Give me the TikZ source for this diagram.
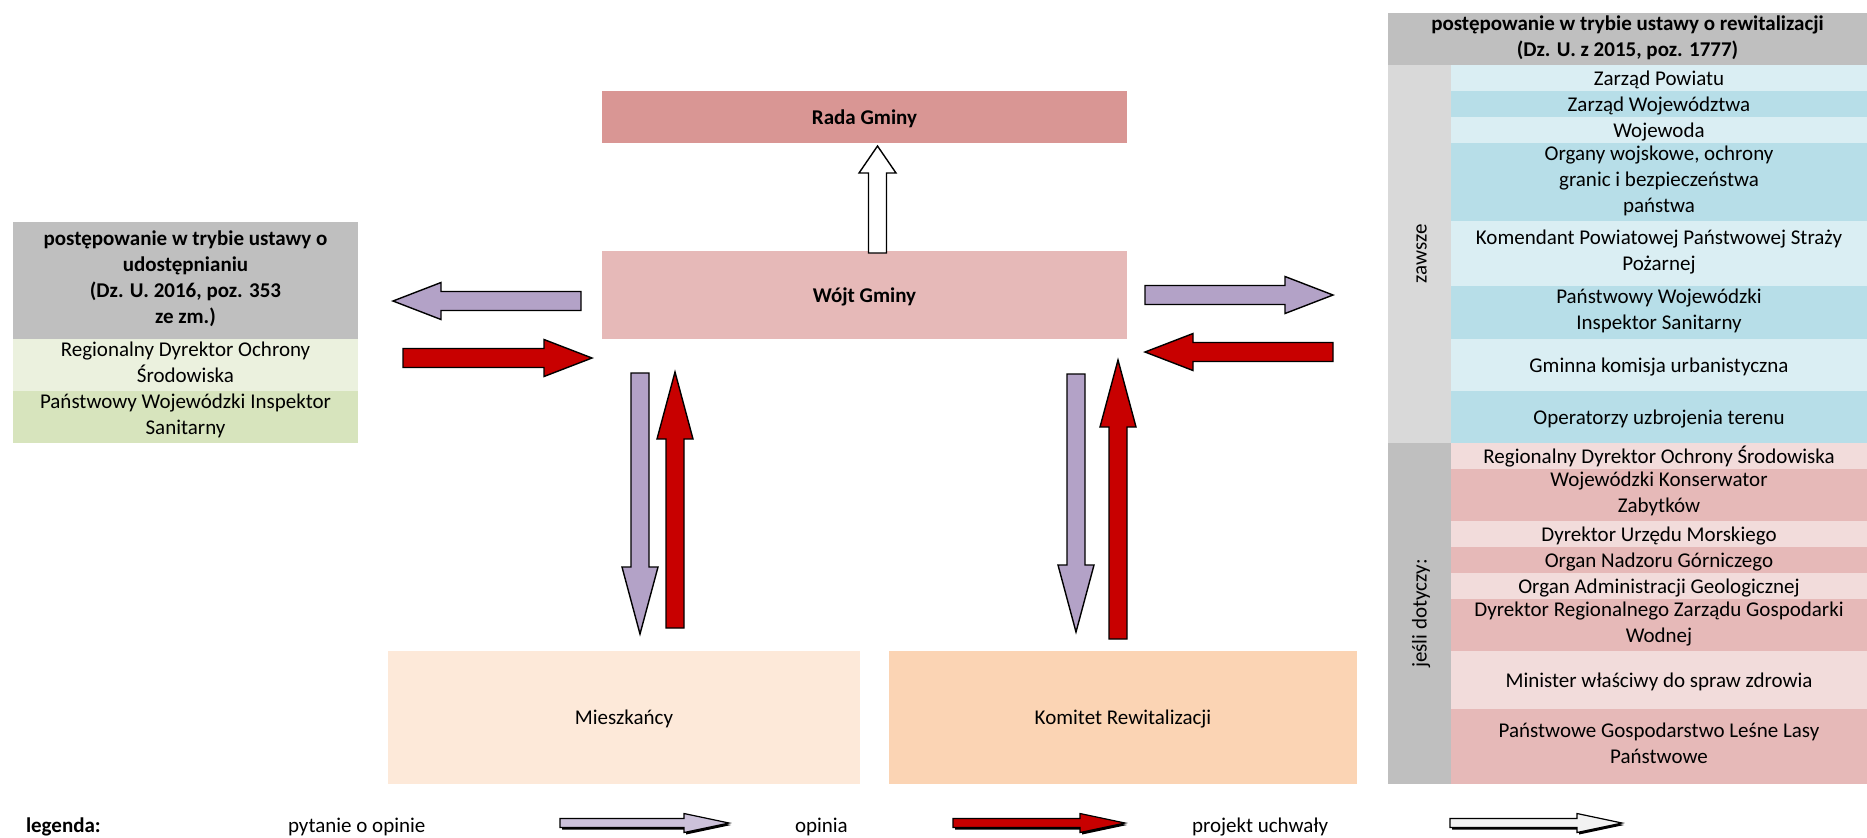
\documentclass[tikz,border=0pt]{standalone}
\usepackage{fontspec}
\setmainfont{Carlito}
\usepackage{tikz}
\usetikzlibrary{positioning,calc,shadows}

\definecolor{radaC}{HTML}{D99694}
\definecolor{wojtC}{HTML}{E6B9B8}
\definecolor{mieszC}{HTML}{FDE9D9}
\definecolor{komitetC}{HTML}{FBD4B4}
\definecolor{headC}{HTML}{BFBFBF}
\definecolor{zawszeC}{HTML}{D9D9D9}
\definecolor{blueA}{HTML}{DAEEF3}
\definecolor{blueB}{HTML}{B7DEE8}
\definecolor{pinkA}{HTML}{F2DCDB}
\definecolor{pinkB}{HTML}{E6B9B8}
\definecolor{greenA}{HTML}{EBF1DE}
\definecolor{greenB}{HTML}{D7E4BD}
\definecolor{askC}{HTML}{B3A2C7}
\definecolor{ansC}{HTML}{C80000}
\definecolor{askLegC}{HTML}{CCC1DA}
\definecolor{draftC}{HTML}{F2F2F2}

\newcommand{\boxfont}{\fontsize{10.5}{13}\selectfont}

\begin{document}
\begin{tikzpicture}[
    x=0.5pt, y=-0.5pt,
    node distance=0pt,
    box/.style={inner sep=0pt, outer sep=0pt, align=center, font=\boxfont,
      execute at begin node={\rule{0pt}{10pt}}, execute at end node={\rule[-3pt]{0pt}{3pt}}},
    head/.style={box, fill=headC, font=\boxfont\bfseries},
    row/.style={box, minimum width=208pt},
    blockarrow/.style args={#1/#2/#3}{draw=black, line width=0.7pt,
      to path={let \p1=(\tikztostart), \p2=(\tikztotarget),
        \n1={veclen(\x2-\x1,\y2-\y1)}, \n2={(\x2-\x1)/\n1}, \n3={(\y2-\y1)/\n1} in
        ({\x1-(\n3)*#1},{\y1+(\n2)*#1})
        -- ({\x2-(\n2)*#3-(\n3)*#1},{\y2-(\n3)*#3+(\n2)*#1})
        -- ({\x2-(\n2)*#3-(\n3)*#2},{\y2-(\n3)*#3+(\n2)*#2})
        -- (\p2)
        -- ({\x2-(\n2)*#3+(\n3)*#2},{\y2-(\n3)*#3-(\n2)*#2})
        -- ({\x2-(\n2)*#3+(\n3)*#1},{\y2-(\n3)*#3-(\n2)*#1})
        -- ({\x1+(\n3)*#1},{\y1-(\n2)*#1}) -- cycle}},
    wide/.style={blockarrow=4.75/9.25/24},
    tall/.style={blockarrow=4.5/9/33.5},
    legarrow/.style={blockarrow=2.25/4.75/22.5, line width=0.6pt,
      drop shadow={shadow xshift=1pt, shadow yshift=-1pt, fill=black, opacity=1}}
]
\useasboundingbox (0,0) rectangle (1867,837);

% middle boxes
\node[box, fill=radaC, minimum width=262.5pt, minimum height=26pt, anchor=north west, font=\boxfont\bfseries] (rada) at (602,91) {Rada Gminy};
\node[box, fill=wojtC, minimum width=262.5pt, minimum height=44pt, anchor=north west, font=\boxfont\bfseries] (wojt) at (602,251) {Wójt Gminy};
\node[box, fill=mieszC, minimum width=236pt, minimum height=66.5pt, anchor=north west] (miesz) at (388,651) {Mieszkańcy};
\node[box, fill=komitetC, minimum width=234pt, minimum height=66.5pt, anchor=north west] (komitet) at (889,651) {Komitet Rewitalizacji};

% left table
\node[head, minimum width=172.5pt, minimum height=58.5pt, anchor=north west] (udostHead) at (13,222) {postępowanie w trybie ustawy o\\udostępnianiu\\(Dz. U. 2016, poz. 353\\ze zm.)};
\node[box, fill=greenA, minimum width=172.5pt, minimum height=26pt, below=of udostHead] (udostR1) {Regionalny Dyrektor Ochrony\\Środowiska};
\node[box, fill=greenB, minimum width=172.5pt, minimum height=26pt, below=of udostR1] (udostR2) {Państwowy Wojewódzki Inspektor\\Sanitarny};

% right table
\node[head, minimum width=239.5pt, minimum height=26pt, anchor=north west] (rewHead) at (1388,13) {postępowanie w trybie ustawy o rewitalizacji\\(Dz. U. z 2015, poz. 1777)};
\node[box, fill=zawszeC, minimum width=31.5pt, minimum height=189pt, anchor=north west] (zawsze) at (1388,65) {};
\node[box, fill=headC, minimum width=31.5pt, minimum height=170.5pt, below=of zawsze] (jesli) {};
\node[box, rotate=90] (zawszeT) at (zawsze) {zawsze};
\node[box, rotate=90] (jesliT) at (jesli) {jeśli dotyczy:};

\node[row, fill=blueA, minimum height=13pt, anchor=north west] (z1) at (1451,65) {Zarząd Powiatu};
\node[row, fill=blueB, minimum height=13pt, below=of z1] (z2) {Zarząd Województwa};
\node[row, fill=blueA, minimum height=13pt, below=of z2] (z3) {Wojewoda};
\node[row, fill=blueB, minimum height=39pt, below=of z3] (z4) {Organy wojskowe, ochrony\\granic i bezpieczeństwa\\państwa};
\node[row, fill=blueA, minimum height=32.5pt, below=of z4] (z5) {Komendant Powiatowej Państwowej Straży\\Pożarnej};
\node[row, fill=blueB, minimum height=26.5pt, below=of z5] (z6) {Państwowy Wojewódzki\\Inspektor Sanitarny};
\node[row, fill=blueA, minimum height=26pt, below=of z6] (z7) {Gminna komisja urbanistyczna};
\node[row, fill=blueB, minimum height=26pt, below=of z7] (z8) {Operatorzy uzbrojenia terenu};

\node[row, fill=pinkA, minimum height=13pt, below=of z8] (j1) {Regionalny Dyrektor Ochrony Środowiska};
\node[row, fill=pinkB, minimum height=26pt, below=of j1] (j2) {Wojewódzki Konserwator\\Zabytków};
\node[row, fill=pinkA, minimum height=13pt, below=of j2] (j3) {Dyrektor Urzędu Morskiego};
\node[row, fill=pinkB, minimum height=13pt, below=of j3] (j4) {Organ Nadzoru Górniczego};
\node[row, fill=pinkA, minimum height=13pt, below=of j4] (j5) {Organ Administracji Geologicznej};
\node[row, fill=pinkB, minimum height=26pt, below=of j5] (j6) {Dyrektor Regionalnego Zarządu Gospodarki\\Wodnej};
\node[row, fill=pinkA, minimum height=29pt, below=of j6] (j7) {Minister właściwy do spraw zdrowia};
\node[row, fill=pinkB, minimum height=37.5pt, below=of j7] (j8) {Państwowe Gospodarstwo Leśne Lasy\\Państwowe};

% arrow ends
\coordinate (askLs) at (581,301);
\coordinate (askLe) at (393,301);
\coordinate (ansLs) at (403,358);
\coordinate (ansLe) at (592,358);
\coordinate (askRs) at (1145,295);
\coordinate (askRe) at (1333,295);
\coordinate (ansRs) at (1333,352);
\coordinate (ansRe) at (1145,352);
\coordinate (askMs) at (640,373);
\coordinate (askMe) at (640,634);
\coordinate (ansMs) at (675,628);
\coordinate (ansMe) at (675,372);
\coordinate (askKs) at (1076,374);
\coordinate (askKe) at (1076,632);
\coordinate (ansKs) at (1118,639);
\coordinate (ansKe) at (1118,360);
\coordinate (draftS) at (877.5,253);
\coordinate (draftE) at (877.5,146);

\draw[wide, fill=askC] (askLs) to (askLe);
\draw[wide, fill=ansC] (ansLs) to (ansLe);
\draw[wide, fill=askC] (askRs) to (askRe);
\draw[wide, fill=ansC] (ansRs) to (ansRe);
\draw[tall, fill=askC] (askMs) to (askMe);
\draw[tall, fill=ansC] (ansMs) to (ansMe);
\draw[tall, fill=askC] (askKs) to (askKe);
\draw[tall, fill=ansC] (ansKs) to (ansKe);
\draw[blockarrow=4.5/9.25/13.5, fill=white] (draftS) to (draftE);

% legend
\node[box, font=\boxfont\bfseries, anchor=base west] (legenda) at (26,832) {legenda:};
\node[box, anchor=base west] (legAsk) at (288,832) {pytanie o opinie};
\node[box, anchor=base west] (legAns) at (795,832) {opinia};
\node[box, anchor=base west] (legDraft) at (1192,832) {projekt uchwały};
\coordinate (legAskS) at (560,823);
\coordinate (legAskE) at (729,823);
\coordinate (legAnsS) at (953,823);
\coordinate (legAnsE) at (1125,823);
\coordinate (legDraftS) at (1450,823);
\coordinate (legDraftE) at (1622,823);
\draw[legarrow, fill=askLegC] (legAskS) to (legAskE);
\draw[legarrow, fill=ansC] (legAnsS) to (legAnsE);
\draw[legarrow, fill=draftC] (legDraftS) to (legDraftE);
\end{tikzpicture}
\end{document}
